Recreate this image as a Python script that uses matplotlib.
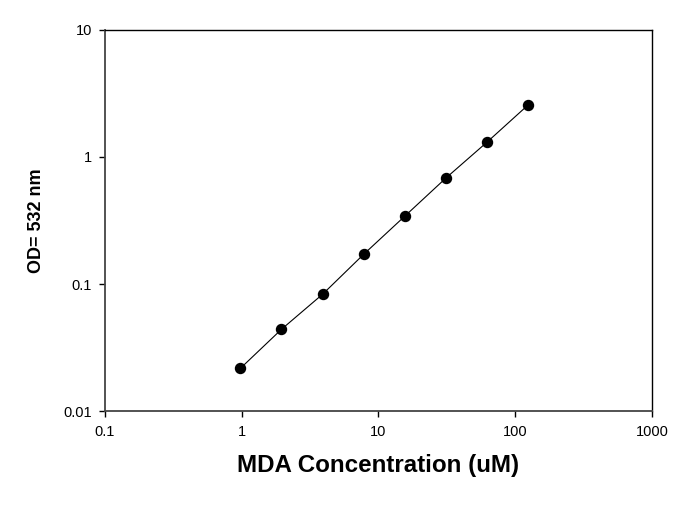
import matplotlib
matplotlib.use("Agg")
import matplotlib.pyplot as plt
from matplotlib.ticker import FixedLocator, FixedFormatter, NullLocator

plt.rcParams['font.family'] = ['Liberation Sans', 'DejaVu Sans']

# MDA standard curve
conc_um = [0.977, 1.953, 3.906, 7.8125, 15.625, 31.25, 62.5, 125]
od_532 = [0.0218, 0.0442, 0.0834, 0.172, 0.343, 0.684, 1.31, 2.57]

x_ticks = [0.1, 1, 10, 100, 1000]
x_labels = ["0.1", "1", "10", "100", "1000"]
y_ticks = [0.01, 0.1, 1, 10]
y_labels = ["0.01", "0.1", "1", "10"]

fig = plt.figure(figsize=(6.88, 5.15), dpi=100)
ax = fig.add_axes([0.1526, 0.201, 0.795, 0.7417])

ax.plot(conc_um, od_532, color='black', linewidth=0.8,
        marker='o', markersize=7.2, markerfacecolor='black', markeredgecolor='black')

ax.set_xscale('log')
ax.set_yscale('log')
ax.set_xlim(0.1, 1000)
ax.set_ylim(0.01, 10)

ax.xaxis.set_major_locator(FixedLocator(x_ticks))
ax.xaxis.set_major_formatter(FixedFormatter(x_labels))
ax.xaxis.set_minor_locator(NullLocator())
ax.yaxis.set_major_locator(FixedLocator(y_ticks))
ax.yaxis.set_major_formatter(FixedFormatter(y_labels))
ax.yaxis.set_minor_locator(NullLocator())

ax.tick_params(axis='both', direction='out', length=4.5, width=1, labelsize=10.5, pad=5)

for side in ['left', 'bottom']:
    ax.spines[side].set_color('#444444')
    ax.spines[side].set_linewidth(1.3)
for side in ['top', 'right']:
    ax.spines[side].set_color('black')
    ax.spines[side].set_linewidth(1.0)

ax.set_xlabel("MDA Concentration (uM)", fontsize=17.4, fontweight='bold', labelpad=11)
ax.set_ylabel("OD= 532 nm", fontsize=13, fontweight='bold', labelpad=13)

fig.savefig("out.png", dpi=100)
